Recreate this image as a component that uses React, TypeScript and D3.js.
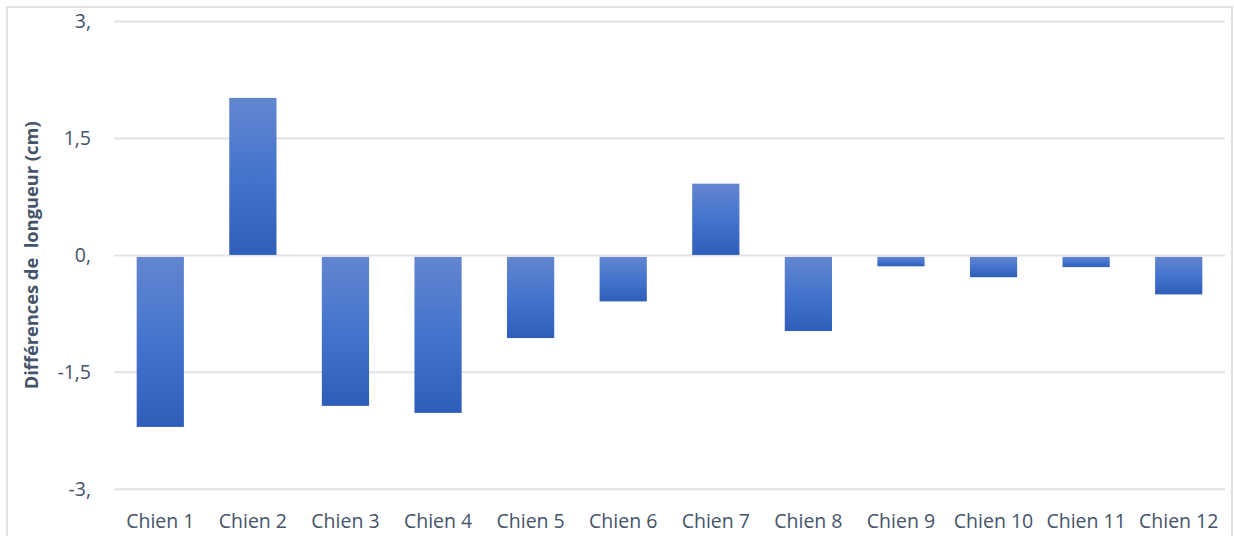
import React from "react";
import * as d3 from "d3";

const categories = ["Chien 1", "Chien 2", "Chien 3", "Chien 4", "Chien 5", "Chien 6", "Chien 7", "Chien 8", "Chien 9", "Chien 10", "Chien 11", "Chien 12"];
const values = [-2.2, 2.02, -1.93, -2.02, -1.06, -0.59, 0.92, -0.97, -0.14, -0.28, -0.15, -0.5];
const yTicks = [3, 1.5, 0, -1.5, -3];
const yTickLabels = ["3,", "1,5", "0,", "-1,5", "-3,"];
const yTitle = "Différences de\u00A0 longueur (cm)";

const W = 1234;
const H = 536;
const plot = { left: 114, right: 1225, top: 21.5, bottom: 489.3 };
const textColor = "#44546A";
const font = "'Open Sans', 'Liberation Sans', sans-serif";

export default function App() {
  const x = d3
    .scaleBand<string>()
    .domain(categories)
    .range([plot.left, plot.right])
    .paddingInner(0.49)
    .paddingOuter(0.245);
  const y = d3.scaleLinear().domain([-3, 3]).range([plot.bottom, plot.top]);

  return (
    <svg
      width={W}
      height={H}
      style={{ position: "absolute", left: 0, top: 0, background: "#fff" }}
    >
      <defs>
        <linearGradient id="barGrad" x1="0" y1="0" x2="0" y2="1">
          <stop offset="0" stopColor="#6386cf" />
          <stop offset="0.5" stopColor="#4474cd" />
          <stop offset="1" stopColor="#2e5eb9" />
        </linearGradient>
      </defs>
      <rect x={0} y={0} width={W} height={H} fill="#fff" />
      <rect x={7} y={7} width={1225} height={H + 10} fill="none" stroke="#d9d9d9" strokeWidth={1.5} />
      {yTicks.map((t, i) => (
        <g key={"g" + i}>
          <line x1={plot.left} x2={plot.right} y1={y(t)} y2={y(t)} stroke="#e0e3e9" strokeWidth={2} />
          <text
            x={91}
            y={y(t)}
            dy="0.35em"
            textAnchor="end"
            fill={textColor}
            fontFamily={font}
            fontSize={19.5}
          >
            {yTickLabels[i]}
          </text>
        </g>
      ))}
      {values.map((v, i) => {
        const y0 = y(Math.max(0, v));
        const y1 = y(Math.min(0, v));
        return (
          <rect
            key={"b" + i}
            x={x(categories[i])}
            y={v >= 0 ? y0 : y0 + 1.5}
            width={x.bandwidth()}
            height={Math.max(0, y1 - y0 - (v >= 0 ? 0.5 : 1.5))}
            fill="url(#barGrad)"
          />
        );
      })}
      {categories.map((c) => (
        <text
          key={"x" + c}
          x={(x(c) as number) + x.bandwidth() / 2}
          y={528}
          textAnchor="middle"
          fill={textColor}
          fontFamily={font}
          fontSize={19.5}
        >
          {c}
        </text>
      ))}
      <text
        transform={`translate(38, ${(plot.top + plot.bottom) / 2}) rotate(-90)`}
        textAnchor="middle"
        fill={textColor}
        fontFamily={font}
        fontSize={18.3}
        fontWeight="bold"
        style={{ whiteSpace: "pre" }}
      >
        {yTitle}
      </text>
    </svg>
  );
}
